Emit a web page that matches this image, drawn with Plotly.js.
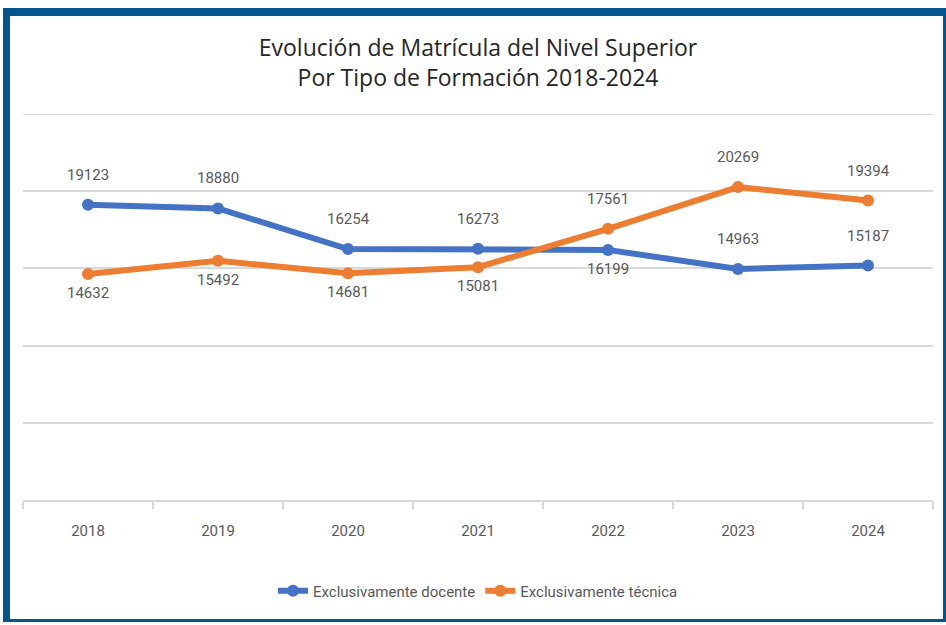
<!DOCTYPE html>
<html>
<head>
<meta charset="utf-8">
<script src="https://cdn.plot.ly/plotly-3.0.1.min.js"></script>
<style>
  html, body { margin: 0; padding: 0; background: #ffffff; }
  #wrap { position: relative; width: 946px; height: 625px; overflow: hidden; }
  #chart { position: absolute; left: 0; top: 0; width: 946px; height: 625px; }
  #frame { position: absolute; left: 3px; top: 8px; width: 933px; height: 603px;
           border-style: solid; border-color: #02558F;
           border-width: 8px 3px 3px 7px; pointer-events: none; }
</style>
</head>
<body>
<div id="wrap">
  <div id="chart"></div>
  <div id="frame"></div>
</div>
<script>
const years = ["2018", "2019", "2020", "2021", "2022", "2023", "2024"];
const docente = [19123, 18880, 16254, 16273, 16199, 14963, 15187];
const tecnica = [14632, 15492, 14681, 15081, 17561, 20269, 19394];
const seriesNames = ["Exclusivamente docente", "Exclusivamente técnica"];
const titleText = "Evolución de Matrícula del Nivel Superior<br>Por Tipo de Formación 2018-2024";
const yMax = 25000;

const blue = "#4472C4";
const orange = "#ED7D31";
function lf() {
  return { family: "Roboto, Liberation Sans, sans-serif", size: 15, color: "#595959" };
}

// label placement (style): above or below the point
const docentePos = ["top", "top", "top", "top", "bottom", "top", "top"];
const tecnicaPos = ["bottom", "bottom", "bottom", "bottom", "top", "top", "top"];

function makeLabels(vals, pos) {
  return vals.map((v, i) => ({
    x: i, y: v, xref: "x", yref: "y",
    text: String(v), showarrow: false,
    yshift: pos[i] === "top" ? 30 : -19,
    font: lf()
  }));
}

const traces = [
  { type: "scatter", mode: "lines+markers", name: seriesNames[0], x: years, y: docente,
    line: { color: blue, width: 6 }, marker: { color: blue, size: 12 } },
  { type: "scatter", mode: "lines+markers", name: seriesNames[1], x: years, y: tecnica,
    line: { color: orange, width: 6 }, marker: { color: orange, size: 12 } }
];

const layout = {
  width: 946, height: 625,
  paper_bgcolor: "#ffffff", plot_bgcolor: "#ffffff",
  margin: { l: 23, r: 13, t: 114, b: 125 },
  title: {
    text: titleText, x: 0.5, xanchor: "center", xref: "paper",
    y: 1 - 56 / 625, yanchor: "top", yref: "container",
    font: { family: "Open Sans, DejaVu Sans, sans-serif", size: 23, color: "#262626" }
  },
  xaxis: {
    type: "category", range: [-0.5, 6.5], tickson: "boundaries",
    ticks: "outside", ticklen: 7, tickcolor: "#d9d9d9", tickwidth: 2,
    showline: true, linecolor: "#d9d9d9", linewidth: 2,
    showgrid: false, zeroline: false, ticklabelstandoff: 16,
    tickfont: lf(), fixedrange: true
  },
  yaxis: {
    range: [0, yMax], dtick: 5000, showticklabels: false,
    showgrid: true, gridcolor: "#d9d9d9", gridwidth: 2, zeroline: false,
    ticks: "", fixedrange: true
  },
  shapes: [
    { type: "line", xref: "paper", yref: "y", x0: 0, x1: 1, y0: yMax, y1: yMax,
      line: { color: "#d9d9d9", width: 2 }, layer: "below" }
  ],
  showlegend: true,
  legend: {
    orientation: "h", x: 0.5, xanchor: "center", y: -0.236, yanchor: "middle",
    font: lf(), itemwidth: 30, traceorder: "normal"
  },
  annotations: makeLabels(docente, docentePos).concat(makeLabels(tecnica, tecnicaPos))
};

Plotly.newPlot("chart", traces, layout, { displayModeBar: false, staticPlot: true });
</script>
</body>
</html>
